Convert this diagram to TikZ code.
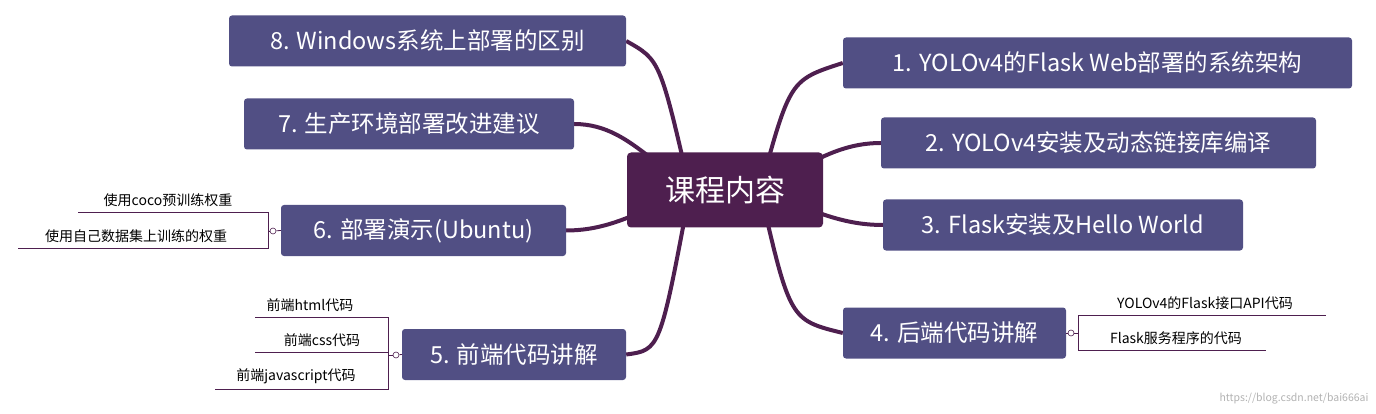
\documentclass[tikz,border=0pt]{standalone}
\usepackage{fontspec}
\setmainfont{Noto Sans CJK SC}
\usetikzlibrary{backgrounds}
\definecolor{rootc}{HTML}{4E1F4F}
\definecolor{mainc}{HTML}{514F84}
\definecolor{linec}{HTML}{4E1F4F}
\begin{document}
\begin{tikzpicture}[x=1pt,y=-1pt,
	root/.style = {rectangle, rounded corners=4pt, fill=rootc, text=white, font=\fontsize{30}{34}\selectfont, minimum width=196pt, minimum height=75pt},
	topic/.style = {rectangle, rounded corners=3pt, fill=mainc, text=white, font=\fontsize{23.5}{27}\selectfont, minimum height=51pt, inner sep=0pt},
	sub/.style = {font=\fontsize{14}{16}\selectfont, text=black, inner sep=0pt},
	branch/.style = {draw=linec, line width=4pt},
	stem/.style = {draw=linec, line width=0.8pt},
	knob/.style = {circle, draw=linec, fill=white, line width=0.6pt, inner sep=0pt, minimum size=6pt},
]
\useasboundingbox (0,0) rectangle (1376,414);
\node[root] (core) at (725,190) {课程内容};
% right side
\node[topic, minimum width=509pt] (t1) at (1097.5,63) {1. YOLOv4的Flask Web部署的系统架构};
\node[topic, minimum width=435pt] (t2) at (1098.5,143) {2. YOLOv4安装及动态链接库编译};
\node[topic, minimum width=360pt] (t3) at (1063,225) {3. Flask安装及Hello World};
\node[topic, minimum width=223pt] (t4) at (954.5,333) {4. 后端代码讲解};
% left side
\node[topic, minimum width=397pt] (t8) at (427.5,41) {8. Windows系统上部署的区别};
\node[topic, minimum width=330pt] (t7) at (409,124) {7. 生产环境部署改进建议};
\node[topic, minimum width=285pt] (t6) at (423.5,230.5) {6. 部署演示(Ubuntu)};
\node[topic, minimum width=224pt] (t5) at (514,354.5) {5. 前端代码讲解};
% sub items
\node[sub, anchor=south] (s61) at (168,207) {使用coco预训练权重};
\node[sub, anchor=south] (s62) at (136,243) {使用自己数据集上训练的权重};
\node[sub, anchor=south] (s51) at (310,312) {前端html代码};
\node[sub, anchor=south] (s52) at (322,347) {前端css代码};
\node[sub, anchor=south] (s53) at (296,384) {前端javascript代码};
\node[sub, anchor=south] (s41) at (1205,310) {YOLOv4的Flask接口API代码};
\node[sub, anchor=south] (s42) at (1176,345) {Flask服务程序的代码};
\node[knob] (k6) at (273,231) {};
\node[knob] (k5) at (396,355) {};
\node[knob] (k4) at (1071,333) {};
\node[font=\fontsize{10.5}{12}\selectfont, text=gray!60, anchor=south east] (mark) at (1372,408) {https://blog.csdn.net/bai666ai};
\begin{scope}[on background layer]
\draw[branch] (core.center) to[out=0,in=180] (t2.west);
\draw[branch] (core.center) to[out=0,in=180] (t3.west);
\draw[branch] (core.center) to[out=180,in=0] (t7.east);
\draw[branch] (core.center) to[out=180,in=0] (t6.east);
\draw[branch] (760,190) .. controls (790,80) .. (t1.west);
\draw[branch] (690,190) .. controls (660,60) .. (t8.east);
\draw[branch] (760,190) .. controls (790,320) .. (t4.west);
\draw[branch] (690,190) .. controls (660,350) .. (t5.east);
\end{scope}
% stems to sub items
\draw[stem] (t6.west) -- (k6);
\draw[stem] (k6) -- (268,231) -- (268,212) -- (78,212);
\draw[stem] (268,231) -- (268,248) -- (18,248);
\draw[stem] (t5.west) -- (k5);
\draw[stem] (k5) -- (388,355) -- (388,317) -- (255,317);
\draw[stem] (388,352) -- (255,352);
\draw[stem] (388,355) -- (388,389) -- (215,389);
\draw[stem] (t4.east) -- (k4);
\draw[stem] (k4) -- (1078,333) -- (1078,315) -- (1326,315);
\draw[stem] (1078,333) -- (1078,350) -- (1266,350);
\end{tikzpicture}
\end{document}
